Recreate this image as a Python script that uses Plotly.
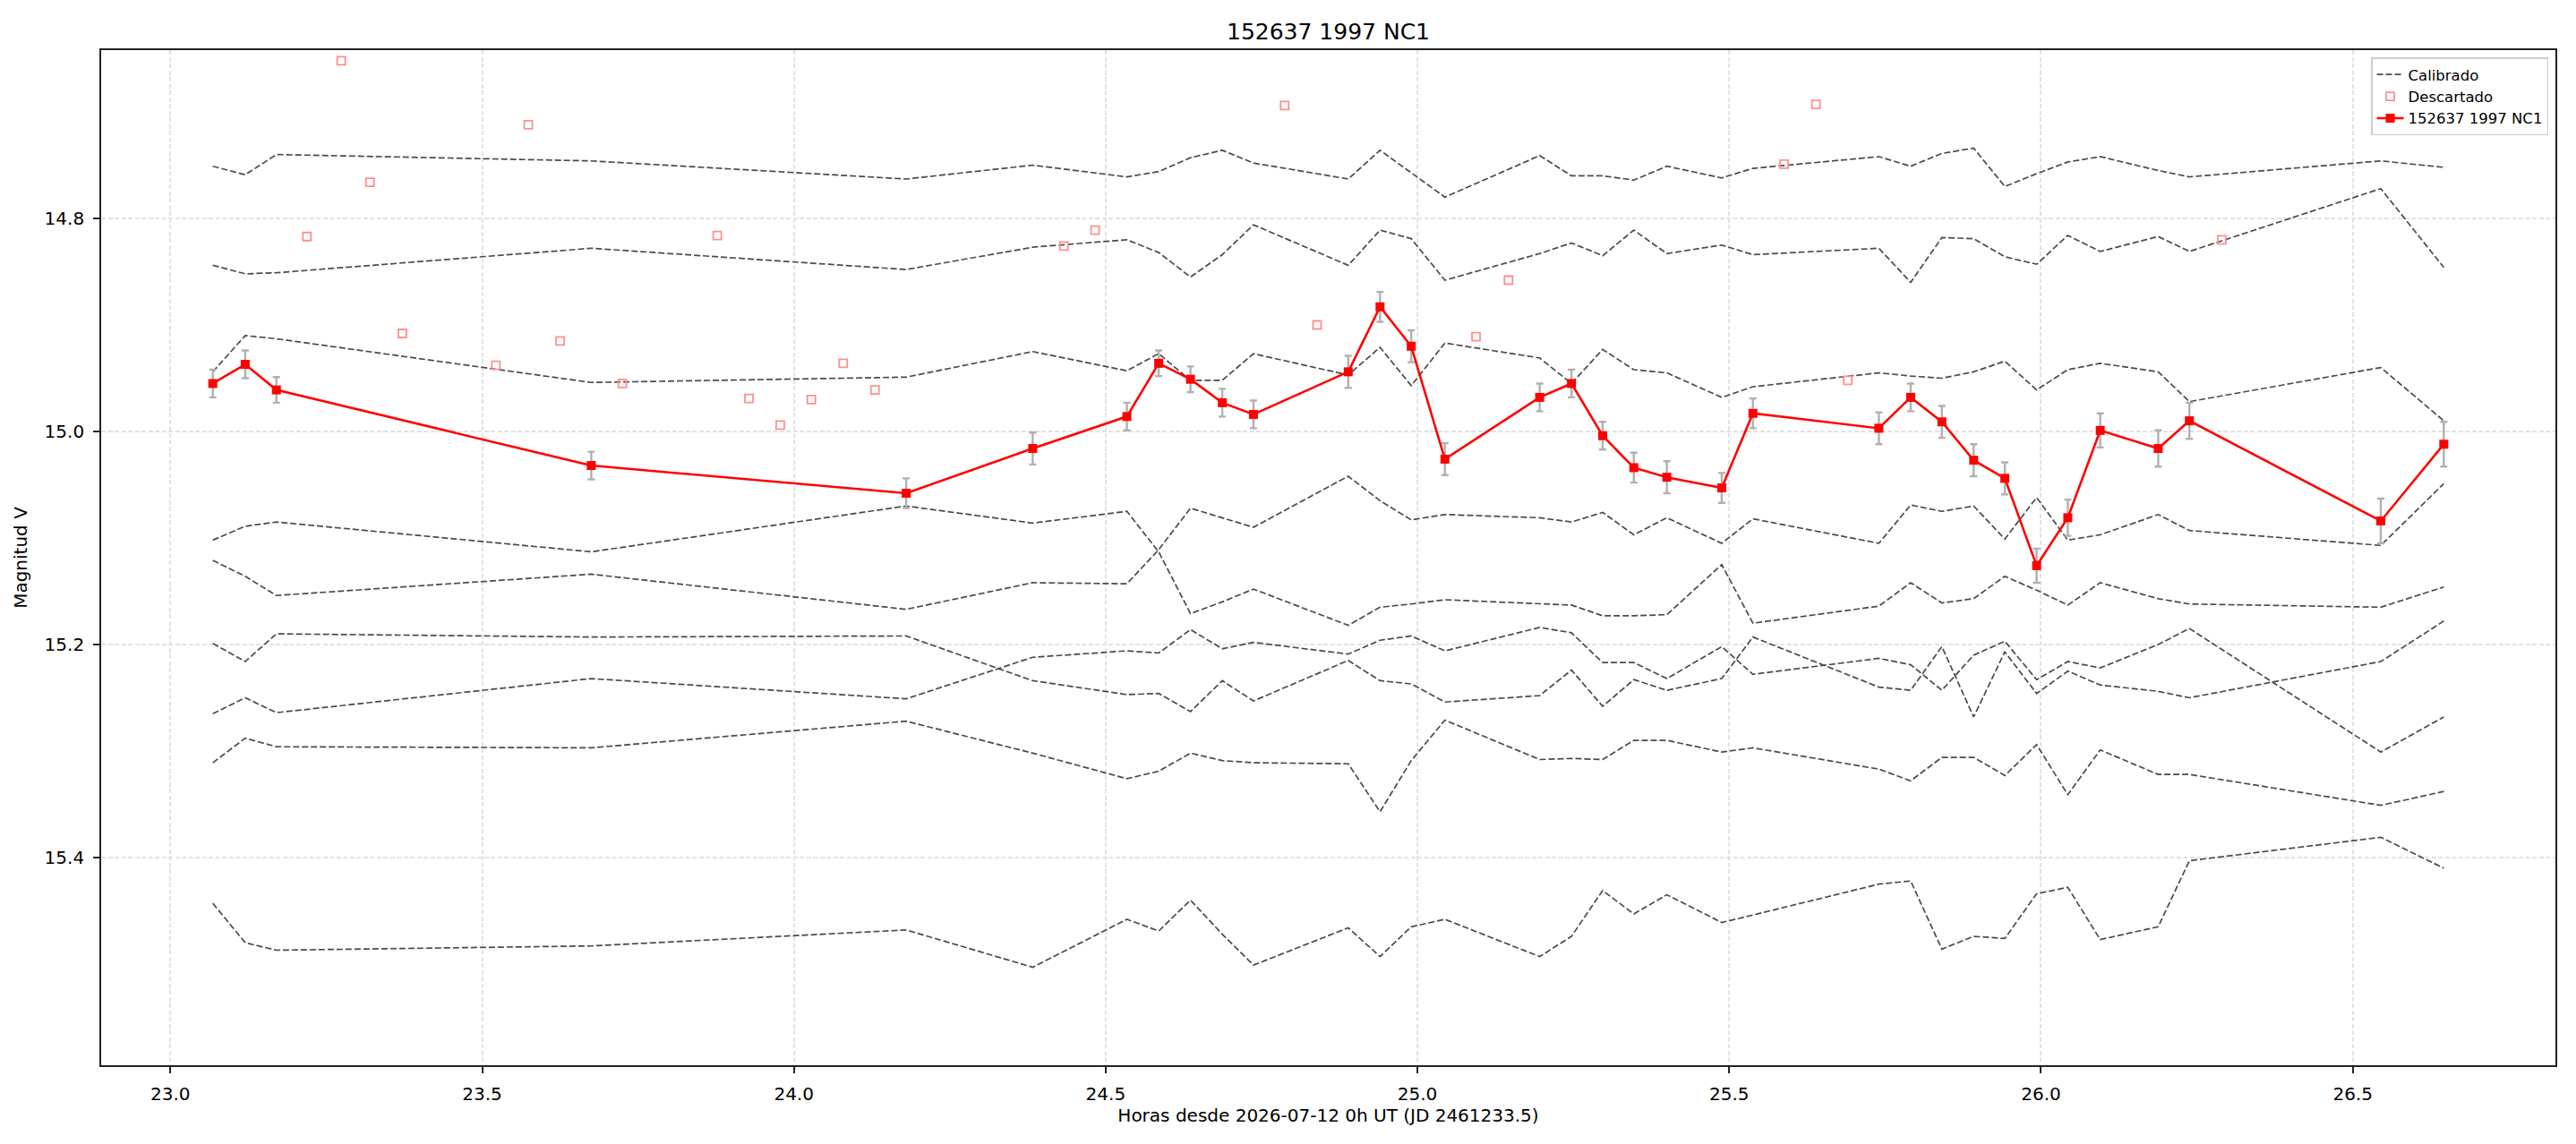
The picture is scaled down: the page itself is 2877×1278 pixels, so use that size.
import plotly.graph_objects as go

# ---------------- data ----------------
hours = [23.068, 23.120, 23.170, 23.675, 24.180, 24.383, 24.534, 24.585, 24.636, 24.687,
         24.737, 24.889, 24.940, 24.990, 25.044, 25.196, 25.247, 25.297, 25.347, 25.400,
         25.488, 25.538, 25.740, 25.791, 25.841, 25.892, 25.942, 25.993, 26.043, 26.095,
         26.188, 26.238, 26.545, 26.646]

target_mag = [14.955, 14.937, 14.961, 15.032, 15.058, 15.016, 14.986, 14.936, 14.951, 14.973,
              14.984, 14.944, 14.883, 14.920, 15.026, 14.968, 14.955, 15.004, 15.034, 15.043,
              15.053, 14.983, 14.997, 14.968, 14.991, 15.027, 15.044, 15.126, 15.081, 14.999,
              15.016, 14.990, 15.084, 15.012]

target_err = [0.013, 0.013, 0.012, 0.013, 0.014, 0.015, 0.013, 0.012, 0.012, 0.013,
              0.013, 0.015, 0.014, 0.015, 0.015, 0.013, 0.013, 0.013, 0.014, 0.015,
              0.014, 0.014, 0.015, 0.013, 0.015, 0.015, 0.015, 0.016, 0.017, 0.016,
              0.017, 0.017, 0.021, 0.021]

disc_hours = [23.219, 23.274, 23.320, 23.372, 23.522, 23.574, 23.625, 23.725, 23.877, 23.928,
              23.978, 24.028, 24.079, 24.130, 24.433, 24.483, 24.787, 24.839, 25.094, 25.146,
              25.588, 25.639, 25.690, 26.290]
disc_mag = [14.817, 14.652, 14.766, 14.908, 14.938, 14.712, 14.915, 14.955, 14.816, 14.969,
            14.994, 14.970, 14.936, 14.961, 14.826, 14.811, 14.694, 14.900, 14.911, 14.858,
            14.749, 14.693, 14.952, 14.820]

calib_1 = [14.751, 14.759, 14.740, 14.746, 14.763, 14.750, 14.761, 14.756, 14.743, 14.736,
           14.748, 14.763, 14.736, 14.757, 14.780, 14.741, 14.760, 14.760, 14.764, 14.751,
           14.762, 14.753, 14.742, 14.751, 14.739, 14.734, 14.770, 14.758, 14.747, 14.742,
           14.755, 14.761, 14.746, 14.752]
calib_2 = [14.844, 14.852, 14.851, 14.828, 14.848, 14.827, 14.820, 14.832, 14.855, 14.834,
           14.806, 14.844, 14.811, 14.819, 14.858, 14.833, 14.823, 14.835, 14.811, 14.833,
           14.825, 14.834, 14.828, 14.860, 14.818, 14.819, 14.836, 14.843, 14.816, 14.831,
           14.817, 14.831, 14.772, 14.846]
calib_3 = [14.944, 14.910, 14.913, 14.954, 14.949, 14.925, 14.943, 14.927, 14.952, 14.952,
           14.927, 14.947, 14.921, 14.957, 14.917, 14.931, 14.955, 14.923, 14.942, 14.945,
           14.968, 14.958, 14.945, 14.948, 14.950, 14.944, 14.934, 14.961, 14.942, 14.936,
           14.944, 14.972, 14.940, 14.990]
calib_4 = [15.102, 15.089, 15.085, 15.113, 15.070, 15.086, 15.075, 15.113, 15.171, 15.160,
           15.148, 15.182, 15.165, 15.162, 15.158, 15.162, 15.163, 15.173, 15.173, 15.172,
           15.125, 15.180, 15.164, 15.142, 15.161, 15.157, 15.136, 15.149, 15.163, 15.142,
           15.157, 15.162, 15.165, 15.146]
calib_5 = [15.121, 15.136, 15.154, 15.134, 15.167, 15.142, 15.143, 15.111, 15.072, 15.081,
           15.090, 15.042, 15.065, 15.083, 15.078, 15.081, 15.085, 15.076, 15.097, 15.081,
           15.105, 15.082, 15.105, 15.069, 15.075, 15.070, 15.101, 15.062, 15.102, 15.097,
           15.078, 15.093, 15.107, 15.049]
calib_6 = [15.199, 15.216, 15.190, 15.193, 15.192, 15.234, 15.247, 15.246, 15.263, 15.234,
           15.253, 15.215, 15.234, 15.237, 15.254, 15.248, 15.224, 15.258, 15.233, 15.243,
           15.232, 15.193, 15.240, 15.243, 15.202, 15.268, 15.207, 15.246, 15.225, 15.238,
           15.244, 15.250, 15.216, 15.178]
calib_7 = [15.265, 15.250, 15.264, 15.232, 15.251, 15.212, 15.206, 15.208, 15.186, 15.204,
           15.198, 15.209, 15.196, 15.192, 15.206, 15.184, 15.189, 15.217, 15.217, 15.232,
           15.202, 15.228, 15.213, 15.219, 15.243, 15.210, 15.197, 15.233, 15.216, 15.222,
           15.200, 15.185, 15.301, 15.268]
calib_8 = [15.311, 15.288, 15.296, 15.297, 15.272, 15.302, 15.326, 15.319, 15.302, 15.309,
           15.311, 15.312, 15.357, 15.309, 15.271, 15.308, 15.307, 15.308, 15.290, 15.290,
           15.301, 15.297, 15.317, 15.328, 15.306, 15.306, 15.323, 15.294, 15.341, 15.299,
           15.322, 15.322, 15.351, 15.338]
calib_9 = [15.443, 15.480, 15.487, 15.483, 15.468, 15.503, 15.458, 15.469, 15.440, 15.472,
           15.501, 15.466, 15.493, 15.465, 15.458, 15.493, 15.474, 15.431, 15.453, 15.435,
           15.461, 15.454, 15.425, 15.422, 15.486, 15.474, 15.476, 15.434, 15.428, 15.477,
           15.465, 15.403, 15.381, 15.410]

calibrated = [calib_1, calib_2, calib_3, calib_4, calib_5, calib_6, calib_7, calib_8, calib_9]

x_ticks = [23.0, 23.5, 24.0, 24.5, 25.0, 25.5, 26.0, 26.5]
y_ticks = [14.8, 15.0, 15.2, 15.4]

title_text = "152637 1997 NC1"
x_title = "Horas desde 2026-07-12 0h UT (JD 2461233.5)"
y_title = "Magnitud V"

# ---------------- figure ----------------
FONT = "DejaVu Sans"
fig = go.Figure()

for i, series in enumerate(calibrated):
    fig.add_trace(go.Scatter(
        x=hours, y=series, mode="lines", name="Calibrado",
        legendgroup="cal", showlegend=(i == 0),
        line=dict(color="#4a4a4a", width=1.7, dash="7px,3px"),
        hoverinfo="skip",
    ))

fig.add_trace(go.Scatter(
    x=disc_hours, y=disc_mag, mode="markers", name="Descartado",
    marker=dict(symbol="square-open", size=9, color="#ff8f8f",
                line=dict(color="#ff8f8f", width=1.8)),
))

fig.add_trace(go.Scatter(
    x=hours, y=target_mag, mode="lines+markers", name=title_text,
    line=dict(color="#ff0000", width=2.6),
    marker=dict(symbol="square", size=10, color="#ff0000"),
    error_y=dict(type="data", array=target_err, visible=True,
                 color="#b0b0b0", thickness=2.4, width=4),
))

axis_common = dict(
    showline=True, linecolor="#222222", linewidth=1.7, mirror=True,
    ticks="outside", ticklen=7, tickwidth=1.6, tickcolor="#222222",
    showgrid=True, gridcolor="#e3e3e3", gridwidth=1.5, griddash="5px,2.5px",
    zeroline=False,
    tickfont=dict(family=FONT, size=20, color="#000000"),
    ticklabelstandoff=6,
)

fig.update_layout(
    width=2877, height=1278,
    margin=dict(l=113, r=23, t=56, b=88, pad=0),
    paper_bgcolor="white", plot_bgcolor="white",
    font=dict(family=FONT, size=20, color="#000000"),
    title=dict(text=title_text, x=0.5, xref="paper", xanchor="center",
               y=1 - 35 / 1278, yref="container", yanchor="middle",
               font=dict(family=FONT, size=25, color="#000000")),
    xaxis=dict(axis_common, range=[22.889, 26.825], tickvals=x_ticks,
               ticktext=[f"{v:.1f}" for v in x_ticks],
               title=dict(text=x_title, standoff=3,
                          font=dict(family=FONT, size=20, color="#000000"))),
    yaxis=dict(axis_common, range=[15.595, 14.642], tickvals=y_ticks,
               ticktext=[f"{v:.1f}" for v in y_ticks],
               title=dict(text=y_title, standoff=14,
                          font=dict(family=FONT, size=20, color="#000000"))),
    legend=dict(x=0.9971, y=0.9926, xanchor="right", yanchor="top",
                bgcolor="rgba(255,255,255,0.85)", bordercolor="#cccccc",
                borderwidth=1.5, font=dict(family=FONT, size=16.5, color="#000000"),
                tracegroupgap=0, itemwidth=30),
    showlegend=True,
)

fig.write_html("out.html", post_script="document.body.style.margin='0';")
